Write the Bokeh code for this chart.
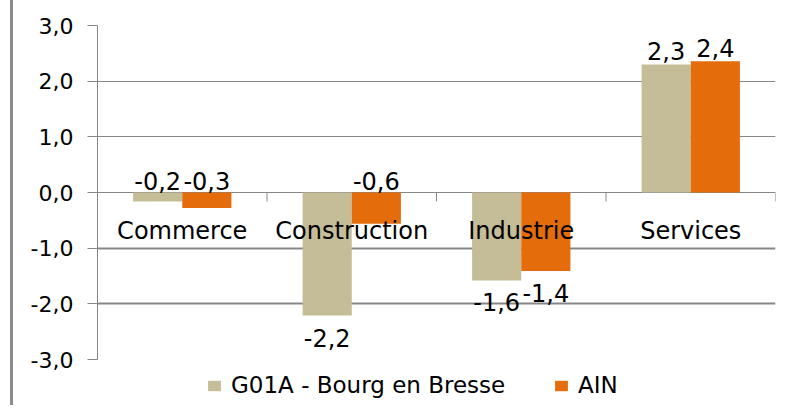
from bokeh.plotting import figure
from bokeh.models import (ColumnDataSource, Legend, LegendItem, FixedTicker, Grid,
                          Div, Range1d)
from bokeh.layouts import row
from bokeh.core.properties import value
from bokeh.embed import file_html
from bokeh.resources import INLINE

categories = ["Commerce", "Construction", "Industrie", "Services"]
series_names = ["G01A - Bourg en Bresse", "AIN"]
bourg = [-0.16, -2.21, -1.58, 2.30]
ain = [-0.28, -0.56, -1.41, 2.36]
y_ticks = [-3, -2, -1, 0, 1, 2, 3]
y_tick_labels = ["-3,0", "-2,0", "-1,0", "0,0", "1,0", "2,0", "3,0"]

TAN = "#C4BD97"
ORANGE = "#E46C0A"
GRID = "#868686"
FONT = "DejaVu Sans"

n = len(categories)
centers = [i + 0.5 for i in range(n)]
bw = 0.29

# layout: value 3 at 25px from top, 55.67 px per unit, figure 405px tall
PX_PER_UNIT = 55.67
FIG_H = 405
TOP = 25
y_max = max(y_ticks)
y_min_frame = y_max - (FIG_H - TOP) / PX_PER_UNIT


def fmt(v):
    return f"{v:.1f}".replace(".", ",")


def label_pos(v):
    if v >= 0:
        return v, -13
    if v > -1:
        return 0.0, -12
    return v, 22


def series_source(vals, shift):
    ly, lo = zip(*[label_pos(v) for v in vals])
    return ColumnDataSource(dict(
        x=[c + shift for c in centers], top=vals,
        ly=list(ly), lo=list(lo), txt=[fmt(v) for v in vals]))


src_b = series_source(bourg, -bw / 2)
src_a = series_source(ain, bw / 2)

p = figure(width=770, height=FIG_H, output_backend="svg", toolbar_location=None,
           x_range=Range1d(0, n), y_range=Range1d(y_min_frame, y_max),
           min_border_left=84, min_border_right=8, min_border_top=TOP,
           min_border_bottom=0, background_fill_color="white",
           border_fill_color="white")
p.outline_line_color = None
p.xaxis.visible = False
p.xgrid.visible = False

# y axis
yax = p.yaxis[0]
yax.bounds = (min(y_ticks), max(y_ticks))
yax.ticker = FixedTicker(ticks=y_ticks)
yax.major_label_overrides = {t: l for t, l in zip(y_ticks, y_tick_labels)}
yax.axis_line_color = GRID
yax.major_tick_line_color = GRID
yax.major_tick_out = 10
yax.major_tick_in = 0
yax.minor_tick_line_color = None
yax.major_label_standoff = 14
yax.major_label_text_font = FONT
yax.major_label_text_font_size = "22px"
yax.major_label_text_color = "black"

p.ygrid.ticker = FixedTicker(ticks=[0, 1, 2, 3])
p.ygrid.grid_line_color = GRID
p.ygrid.grid_line_width = 1
g2 = Grid(dimension=1, ticker=FixedTicker(ticks=[-2, -1]),
          grid_line_color=GRID, grid_line_width=2)
p.add_layout(g2)

r_b = p.vbar(x="x", top="top", bottom=0, width=bw, source=src_b,
             fill_color=TAN, line_color=None)
r_a = p.vbar(x="x", top="top", bottom=0, width=bw, source=src_a,
             fill_color=ORANGE, line_color=None)

# category tick marks on the zero line
bounds = list(range(1, n + 1))
p.segment(x0=bounds, y0=[0] * n, x1=bounds, y1=[-0.16] * n,
          line_color=GRID, line_width=1)

# category labels
p.text(x=centers, y=[0] * n, text=categories, text_font=value(FONT),
       text_font_size="24px", text_align="center",
       text_baseline="alphabetic", y_offset=38, text_color="black")

# data labels
for s in (src_b, src_a):
    p.text(x="x", y="ly", text="txt", y_offset="lo", source=s,
           text_font=value(FONT), text_font_size="24px",
           text_align="center", text_baseline="alphabetic",
           text_color="black")

for r, name, xloc in ((r_b, series_names[0], 109), (r_a, series_names[1], 456)):
    lg = Legend(items=[LegendItem(label=name, renderers=[r])],
                location=(xloc, 7), orientation="horizontal",
                glyph_width=16, glyph_height=13, label_height=13,
                label_standoff=9, padding=0, margin=0, spacing=0,
                border_line_color=None, background_fill_alpha=0,
                label_text_font=FONT, label_text_font_size="23px",
                label_text_color="black")
    p.add_layout(lg, "center")

border = Div(text="", width=3, height=FIG_H, margin=(0, 0, 0, 10),
             styles={"background-color": "#8c8c8c"})
layout = row(border, p, spacing=0)

open("out.html", "w").write(file_html(layout, INLINE))
